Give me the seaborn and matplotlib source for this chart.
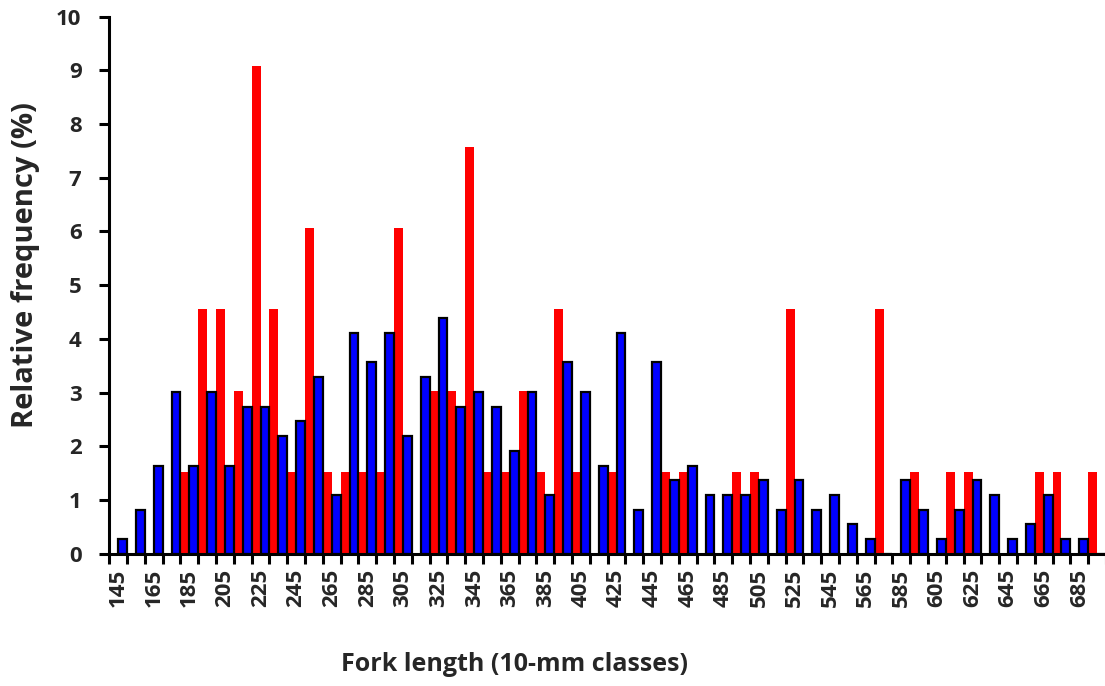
import numpy as np
import pandas as pd
import matplotlib
matplotlib.use("Agg")
import matplotlib.pyplot as plt
import seaborn as sns

# Fork-length classes (10-mm), lower bound + 5
length_classes = list(range(145, 700, 10))

# Relative frequency (%) per class
freq_red = [0, 0, 0, 0, 1.52, 4.55, 4.55, 3.03, 9.09, 4.55,
            1.52, 6.06, 1.52, 1.52, 1.52, 1.52, 6.06, 0, 3.03, 3.03,
            7.58, 1.52, 1.52, 3.03, 1.52, 4.55, 1.52, 0, 1.52, 0,
            0, 1.52, 1.52, 0, 0, 1.52, 1.52, 0, 4.55, 0,
            0, 0, 0, 4.55, 0, 1.52, 0, 1.52, 1.52, 0,
            0, 0, 1.52, 1.52, 0, 1.52]
freq_blue = [0.27, 0.82, 1.64, 3.01, 1.64, 3.01, 1.64, 2.74, 2.74, 2.19,
             2.47, 3.29, 1.10, 4.11, 3.56, 4.11, 2.19, 3.29, 4.38, 2.74,
             3.01, 2.74, 1.92, 3.01, 1.10, 3.56, 3.01, 1.64, 4.11, 0.82,
             3.56, 1.37, 1.64, 1.10, 1.10, 1.10, 1.37, 0.82, 1.37, 0.82,
             1.10, 0.55, 0.27, 0, 1.37, 0.82, 0.27, 0.82, 1.37, 1.10,
             0.27, 0.55, 1.10, 0.27, 0.27, 0]

series_names = ["red", "blue"]
tick_labels = [str(v) for v in length_classes[::2]]

df = pd.DataFrame({
    "length": length_classes * 2,
    "freq": freq_red + freq_blue,
    "series": [series_names[0]] * len(length_classes) + [series_names[1]] * len(length_classes),
})

sns.set_theme(style="white")
plt.rcParams["font.family"] = ["Open Sans", "DejaVu Sans"]
plt.rcParams["font.weight"] = "bold"

fig = plt.figure(figsize=(11.05, 6.86), dpi=100)
ax = fig.add_axes([0.0989, 0.1929, 0.902, 0.7828])

sns.barplot(data=df, x="length", y="freq", hue="series", hue_order=series_names,
            palette={"red": "#FF0000", "blue": "#0000FF"}, width=1.0, gap=0,
            errorbar=None, legend=False, ax=ax, linewidth=0, saturation=1)

# outline only the blue bars
for patch in ax.containers[1]:
    patch.set_edgecolor("black")
    patch.set_linewidth(1.6)
for patch in ax.containers[0]:
    patch.set_edgecolor("none")

n = len(length_classes)
ax.set_xlim(-0.5, n - 0.5)
ax.set_ylim(0, 10)
ax.set_yticks(range(0, 11))

ax.set_xticks(range(0, n, 2))
ax.set_xticklabels(tick_labels, rotation=90, fontsize=16, fontweight="bold")
ax.set_xticks(np.arange(-0.5, n, 1), minor=True)
ax.tick_params(axis="x", which="major", length=0, pad=11)
ax.tick_params(axis="x", which="minor", length=7, width=2.2, color="black", direction="out", bottom=True)
ax.tick_params(axis="y", length=7, width=2.2, color="black", direction="out", left=True, pad=13,
               labelsize=16)
for lab in ax.get_yticklabels():
    lab.set_fontweight("bold")

for side in ["top", "right"]:
    ax.spines[side].set_visible(False)
for side in ["left", "bottom"]:
    ax.spines[side].set_visible(True)
    ax.spines[side].set_color("black")
    ax.spines[side].set_linewidth(2.2)

ax.set_xlabel("Fork length (10-mm classes)", fontsize=18, fontweight="bold")
ax.xaxis.set_label_coords(0.407, -0.207)
ax.xaxis.label.set_va("center")
ax.set_ylabel("Relative frequency (%)", fontsize=21, fontweight="bold")
ax.yaxis.set_label_coords(-0.084, 0.538)
ax.yaxis.label.set_va("center")

fig.savefig("out.png", dpi=100)
